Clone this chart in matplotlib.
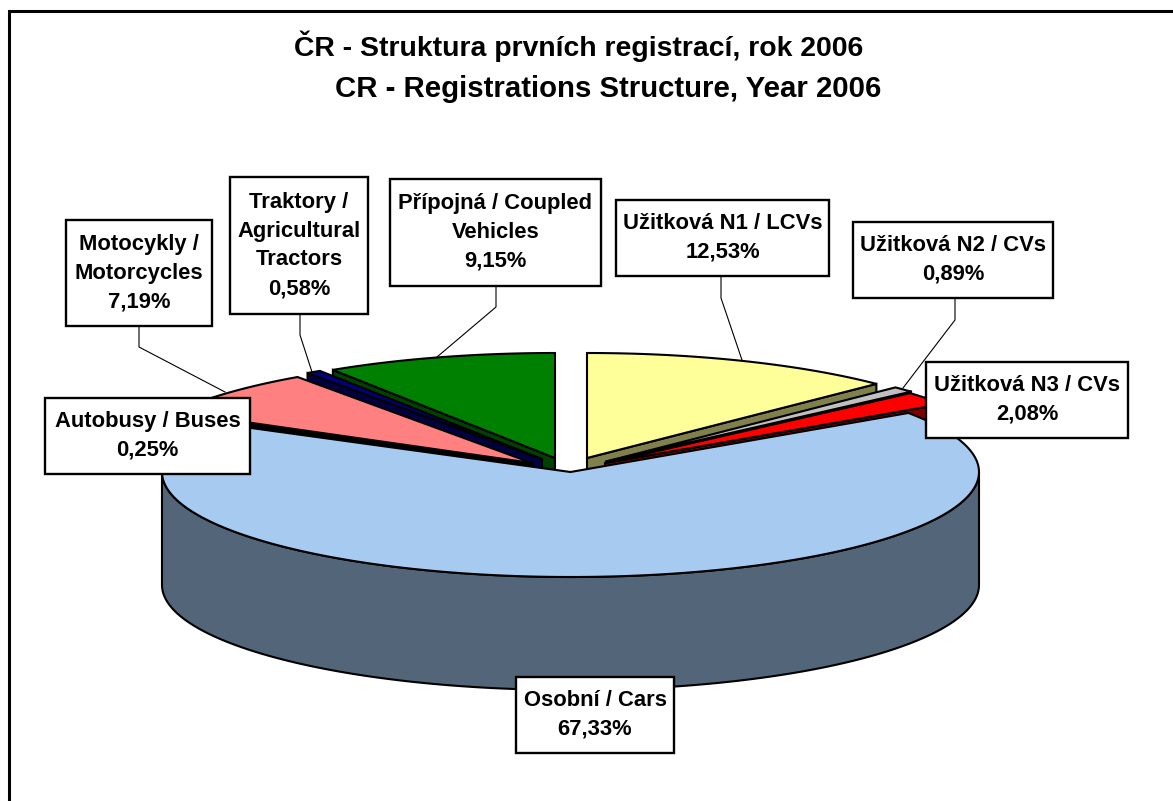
"""3D pie of first registrations in the Czech Republic, 2006."""

import numpy as np
import matplotlib
matplotlib.use("Agg")
import matplotlib.pyplot as plt
from matplotlib.patches import Polygon, Rectangle

plt.rcParams["font.family"] = ["Liberation Sans", "DejaVu Sans"]

# data, clockwise from 12 o'clock
categories = ["Užitková N1 / LCVs", "Užitková N2 / CVs", "Užitková N3 / CVs",
              "Osobní / Cars", "Autobusy / Buses", "Motocykly /\nMotorcycles",
              "Traktory /\nAgricultural\nTractors", "Přípojná / Coupled\nVehicles"]
shares = [12.53, 0.89, 2.08, 67.33, 0.25, 7.19, 0.58, 9.15]

# styles
top_colors = ["#FFFF99", "#C0C0C0", "#FF0000", "#A6CAF0",
              "#800000", "#FF8080", "#000080", "#008000"]
side_colors = ["#80804D", "#606060", "#800000", "#536578",
               "#400000", "#804040", "#000040", "#004000"]

# exploded apex of each slice, in pixels
apex_x = [587, 606, 605, 570.5, 532, 532, 542, 555]
apex_y = [458, 461.5, 463, 472, 465, 463, 459, 458]

# label boxes: left, top, right, bottom
boxes = [(616, 200, 829, 276), (853, 222, 1053, 298), (926, 362, 1128, 438),
         (516, 677, 674, 753), (45, 398, 250, 474), (66, 220, 212, 326),
         (230, 177, 368, 314), (390, 179, 601, 286)]
leaders = [[(721, 276), (721, 298), (742, 360)],
           [(955, 298), (955, 320), (903, 388)],
           None, None, None,
           [(139, 326), (139, 347), (225, 392)],
           [(300, 314), (300, 335), (312, 372)],
           [(496, 286), (496, 307), (437, 357)]]

RX, RY, DEPTH = 408.5, 105, 113
DRAW_ORDER = [7, 0, 6, 1, 5, 2, 4, 3]  # back to front

fig = plt.figure(figsize=(11.73, 8.01), dpi=100)
ax = fig.add_axes([0, 0, 1, 1])
ax.set_xlim(0, 1173)
ax.set_ylim(801, 0)
ax.axis("off")

# only the top and left chart border fall inside the picture
ax.plot([8.5, 8.5, 1173], [801, 10.5, 10.5], color="black", lw=2.2,
        solid_joinstyle="miter")

ends = np.cumsum(shares) / sum(shares) * 2 * np.pi
starts = np.concatenate([[0], ends[:-1]])


def rim(cx, cy, theta):
    return np.column_stack([cx + RX * np.sin(theta), cy - RY * np.cos(theta)])


def add_poly(points, color, z):
    ax.add_patch(Polygon(points, closed=True, facecolor=color, edgecolor="black",
                         lw=1.5, joinstyle="miter", zorder=z))


z = 2
down = np.array([0, DEPTH])
for i in DRAW_ORDER:
    apex = np.array([apex_x[i], apex_y[i]])
    t0, t1 = starts[i], ends[i]
    # cut faces turned towards the viewer
    for t, visible in ((t0, np.sin(t0) < 0), (t1, np.sin(t1) > 0)):
        if visible:
            tip = rim(apex[0], apex[1], np.array([t]))[0]
            add_poly([apex, tip, tip + down, apex + down], side_colors[i], z)
    # outer wall on the front half only
    w0, w1 = max(t0, np.pi / 2), min(t1, 3 * np.pi / 2)
    if w1 > w0:
        arc = rim(apex[0], apex[1], np.linspace(w0, w1, 160))
        add_poly(np.vstack([arc, arc[::-1] + down]), side_colors[i], z)
    arc = rim(apex[0], apex[1], np.linspace(t0, t1, 240))
    add_poly(np.vstack([apex, arc]), top_colors[i], z)
    z += 1

for cat, share, box, leader in zip(categories, shares, boxes, leaders):
    x0, y0, x1, y1 = box
    if leader:
        ax.plot(*zip(*leader), color="black", lw=0.8, zorder=20)
    ax.add_patch(Rectangle((x0, y0), x1 - x0, y1 - y0, facecolor="white",
                           edgecolor="black", lw=1.7, zorder=21))
    text = cat + "\n" + f"{share:.2f}".replace(".", ",") + "%"
    ax.text((x0 + x1) / 2, (y0 + y1) / 2, text, ha="center", va="center",
            ma="center", fontsize=15.8, fontweight="bold", linespacing=1.48,
            zorder=22)

ax.text(579, 46, "ČR - Struktura prvních registrací, rok 2006", ha="center",
        va="center", fontsize=20.4, fontweight="bold")
ax.text(608.5, 89, "CR - Registrations Structure, Year 2006", ha="center",
        va="center", fontsize=21.2, fontweight="bold")

fig.savefig("out.png", dpi=100)
